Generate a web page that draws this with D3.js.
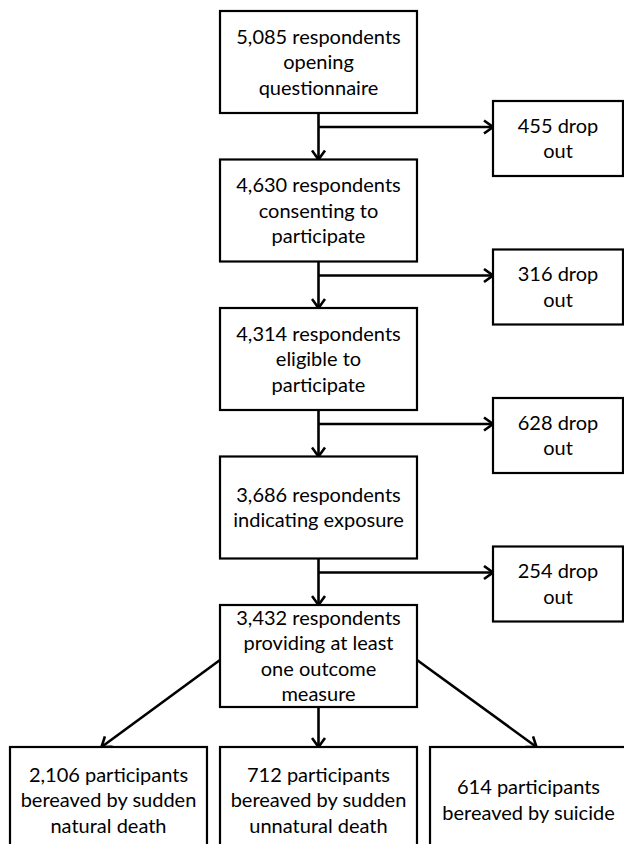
<!DOCTYPE html>
<html>
<head>
<meta charset="utf-8">
<script src="https://cdn.jsdelivr.net/npm/d3@7"></script>
<style>
  html, body { margin: 0; padding: 0; background: #fff; }
  svg { display: block; }
  text { font-family: Lato, "Open Sans", sans-serif; fill: #000; }
</style>
</head>
<body>
<div id="chart"></div>
<script>
// Flow of respondents through the study

const stepCounts = ['5,085', '4,630', '4,314', '3,686', '3,432'];
const stepLabels = [
    ['respondents', 'opening', 'questionnaire'],
    ['respondents', 'consenting to', 'participate'],
    ['respondents', 'eligible to', 'participate'],
    ['respondents', 'indicating exposure'],
    ['respondents', 'providing at least', 'one outcome', 'measure']
];
const dropCounts = ['455', '316', '628', '254'];
const groupCounts = ['2,106', '712', '614'];
const groupLabels = [
    ['participants', 'bereaved by sudden', 'natural death'],
    ['participants', 'bereaved by sudden', 'unnatural death'],
    ['participants', 'bereaved by suicide']
];

// first text line carries the count
function stepLines(i) {
    const l = stepLabels[i].slice();
    l[0] = stepCounts[i] + ' ' + l[0];
    return l;
}
function groupLines(i) {
    const l = groupLabels[i].slice();
    l[0] = groupCounts[i] + ' ' + l[0];
    return l;
}

const width = 624, height = 844;
const boxH = 102, dropH = 75, groupH = 106;
const lineH = 25.5;

const svg = d3.select('#chart').append('svg')
    .attr('width', width)
    .attr('height', height);

svg.append('defs').append('marker')
    .attr('id', 'arr')
    .attr('markerUnits', 'userSpaceOnUse')
    .attr('viewBox', '-12 -8 14 16')
    .attr('refX', 0).attr('refY', 0)
    .attr('markerWidth', 14).attr('markerHeight', 16)
    .attr('orient', 'auto')
    .append('path')
    .attr('d', 'M-9,-6.5 L0,0 L-9,6.5')
    .attr('fill', 'none')
    .attr('stroke', '#000')
    .attr('stroke-width', 2.6);

// scales
const groups = d3.range(groupCounts.length);
const x = d3.scaleBand().domain(groups).range([10, 627]).paddingInner(0.062);
const y = d3.scaleLinear().domain([0, stepCounts.length - 1]).range([11, 605]);
const cx = x(1) + x.bandwidth() / 2;
const dropX = d3.scaleLinear().domain([0, 1]).range([493, 623]);
const groupTop = 747;

function drawBox(x0, y0, w, h, lines) {
    const g = svg.append('g');
    g.append('rect')
        .attr('x', x0).attr('y', y0)
        .attr('width', w).attr('height', h)
        .attr('fill', '#fff')
        .attr('stroke', '#000')
        .attr('stroke-width', 2.2);
    const mid = y0 + h / 2;
    g.selectAll('text')
        .data(lines)
        .enter()
        .append('text')
        .attr('x', x0 + w / 2)
        .attr('y', (d, i) => mid + (i - (lines.length - 1) / 2) * lineH)
        .attr('dy', '0.35em')
        .attr('text-anchor', 'middle')
        .attr('font-size', 20)
        .text(d => d);
}

function arrow(x1, y1, x2, y2) {
    svg.append('line')
        .attr('x1', x1).attr('y1', y1)
        .attr('x2', x2).attr('y2', y2)
        .attr('stroke', '#000')
        .attr('stroke-width', 2.6)
        .attr('marker-end', 'url(#arr)');
}

// main column
stepCounts.forEach((c, i) => {
    const top = y(i);
    drawBox(x(1), top, x.bandwidth(), boxH, stepLines(i));
    if (i < stepCounts.length - 1) {
        const bottom = top + boxH;
        const branchY = bottom + 14;
        arrow(cx, bottom, cx, y(i + 1));
        arrow(cx, branchY, dropX(0), branchY);
        drawBox(dropX(0), branchY - 26, dropX(1) - dropX(0), dropH,
            [dropCounts[i] + ' drop', 'out']);
    }
});

// split into bereavement groups
const lastBottom = y(stepCounts.length - 1) + boxH;
const splitY = lastBottom - 47;
groups.forEach(i => {
    const gx = x(i) + x.bandwidth() / 2;
    if (i === 1) {
        arrow(cx, lastBottom, gx, groupTop);
    } else {
        const sx = i === 0 ? x(1) : x(1) + x.bandwidth();
        arrow(sx, splitY, i === 0 ? gx - 7 : gx + 8, groupTop);
    }
    drawBox(x(i), groupTop, x.bandwidth(), groupH, groupLines(i));
});
</script>
</body>
</html>
